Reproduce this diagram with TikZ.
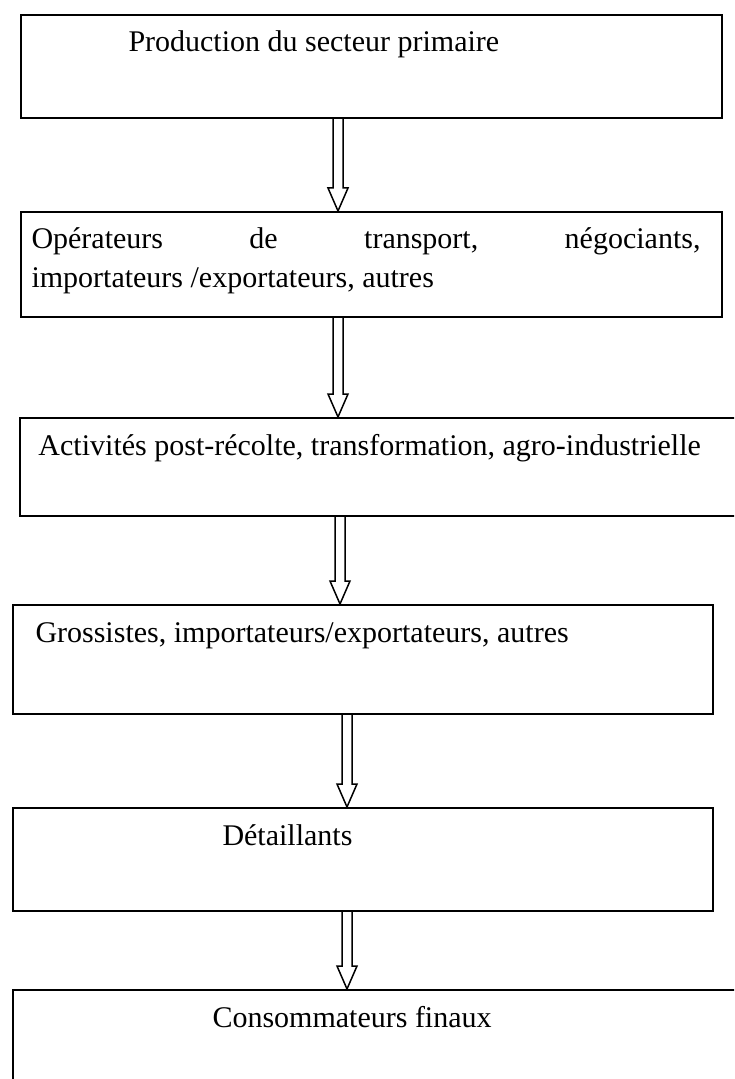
\documentclass[tikz,border=0pt]{standalone}
\usepackage{fontspec}
\setmainfont{Liberation Serif}
\usetikzlibrary{calc}
\begin{document}
\begin{tikzpicture}[x=0.4pt,y=-0.4pt,
  stagebox/.style={draw, line width=0.8pt, inner sep=0pt, anchor=north west},
  stagetext/.style={anchor=base west, inner sep=0pt, font=\fontsize{12}{15.6}\selectfont},
  arrowline/.style={draw, line width=0.6pt, line join=miter},
  hollowarrow/.style={to path={
    let \p1=(\tikztostart), \p2=(\tikztotarget) in
    (\x1-2pt,\y1) -- (\x1-2pt,\y2+9.2pt) -- (\x1-4pt,\y2+9.2pt) -- (\x1,\y2)
    -- (\x1+4pt,\y2+9.2pt) -- (\x1+2pt,\y2+9.2pt) -- (\x1+2pt,\y1)}}
]
\clip (0,0) rectangle (734,1079);
\useasboundingbox (0,0) rectangle (734,1079);

% boxes
\node[stagebox, minimum width=280.4pt, minimum height=41.2pt] (b1) at (20,14) {};
\node[stagebox, minimum width=280.4pt, minimum height=42pt] (b2) at (20,211) {};
\node[stagebox, minimum width=288.4pt, minimum height=39.2pt] (b3) at (19,417) {};
\node[stagebox, minimum width=280pt, minimum height=43.6pt] (b4) at (12,604) {};
\node[stagebox, minimum width=280pt, minimum height=41.2pt] (b5) at (12,807) {};
\node[stagebox, minimum width=291.2pt, minimum height=40.4pt] (b6) at (12,989) {};

% texts
\node[stagetext] (t1) at (128,52) {Production du secteur primaire};
\node[stagetext] (t2) at (31,248) {\hbox to 267.6pt{Opérateurs\hfill de\hfill transport,\hfill négociants,}};
\node[stagetext] (t2b) at (31,287) {importateurs /exportateurs, autres};
\node[stagetext] (t3) at (38,455) {Activités post-récolte, transformation, agro-industrielle};
\node[stagetext] (t4) at (35,642) {Grossistes, importateurs/exportateurs, autres};
\node[stagetext] (t5) at (222,845) {Détaillants};
\node[stagetext] (t6) at (212,1027) {Consommateurs finaux};

% arrow columns
\coordinate (c1) at (338,0);
\coordinate (c2) at (338,0);
\coordinate (c3) at (340,0);
\coordinate (c4) at (347,0);
\coordinate (c5) at (347,0);

\draw[arrowline, hollowarrow] (b1.south -| c1) to (b2.north -| c1);
\draw[arrowline, hollowarrow] (b2.south -| c2) to (b3.north -| c2);
\draw[arrowline, hollowarrow] (b3.south -| c3) to (b4.north -| c3);
\draw[arrowline, hollowarrow] (b4.south -| c4) to (b5.north -| c4);
\draw[arrowline, hollowarrow] (b5.south -| c5) to (b6.north -| c5);
\end{tikzpicture}
\end{document}
